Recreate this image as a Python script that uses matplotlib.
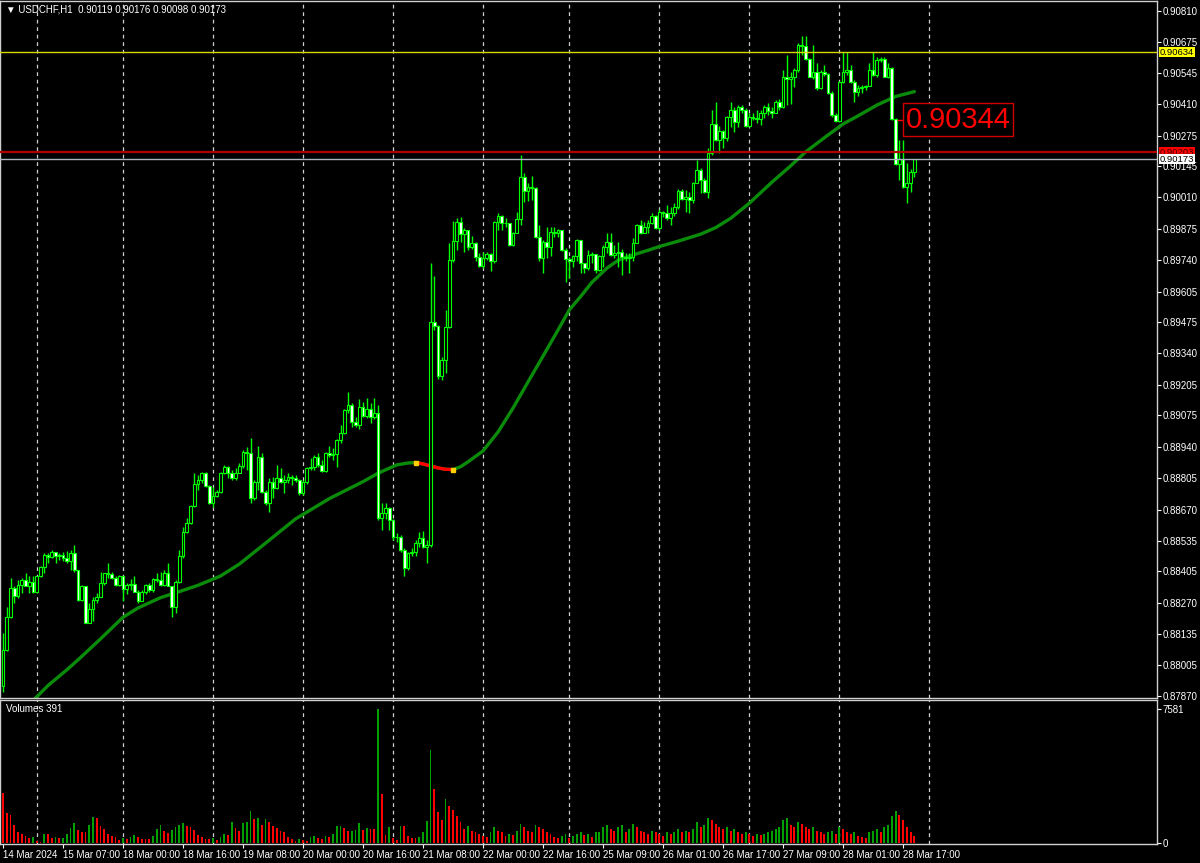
import matplotlib
matplotlib.use("Agg")
import matplotlib.pyplot as plt
from matplotlib.patches import Rectangle

plt.rcParams["font.family"] = ["Liberation Sans", "DejaVu Sans"]

# USDCHF H1, 244 hourly bars (14 Mar 15:00 .. 28 Mar 20:00)
first_open = 0.87911
closes = [
    0.88068, 0.88211, 0.88333, 0.88301, 0.88347, 0.88368, 0.88343, 0.88361, 0.88318, 0.88383,
    0.88423, 0.88476, 0.88466, 0.88489, 0.88469, 0.88476, 0.88461, 0.88451, 0.88483, 0.88411,
    0.88283, 0.88340, 0.88185, 0.88243, 0.88280, 0.88297, 0.88354, 0.88397, 0.88394, 0.88376,
    0.88347, 0.88387, 0.88328, 0.88347, 0.88351, 0.88318, 0.88276, 0.88318, 0.88347, 0.88326,
    0.88371, 0.88368, 0.88347, 0.88397, 0.88343, 0.88251, 0.88361, 0.88469, 0.88576, 0.88612,
    0.88686, 0.88779, 0.88795, 0.88826, 0.88772, 0.88697, 0.88729, 0.88747, 0.88829, 0.88852,
    0.88829, 0.88805, 0.88826, 0.88858, 0.88919, 0.88912, 0.88719, 0.88790, 0.88897, 0.88747,
    0.88697, 0.88790, 0.88762, 0.88804, 0.88790, 0.88797, 0.88812, 0.88804, 0.88797, 0.88740,
    0.88790, 0.88847, 0.88854, 0.88895, 0.88862, 0.88837, 0.88912, 0.88905, 0.88909, 0.88969,
    0.89000, 0.89098, 0.89119, 0.89048, 0.89033, 0.89112, 0.89072, 0.89103, 0.89066, 0.89083,
    0.88633, 0.88654, 0.88676, 0.88626, 0.88554, 0.88551, 0.88497, 0.88418, 0.88483, 0.88486,
    0.88526, 0.88547, 0.88511, 0.88518, 0.89477, 0.89458, 0.89243, 0.89312, 0.89455, 0.89741,
    0.89824, 0.89906, 0.89855, 0.89870, 0.89798, 0.89816, 0.89756, 0.89716, 0.89749, 0.89767,
    0.89739, 0.89906, 0.89930, 0.89902, 0.89899, 0.89806, 0.89859, 0.89916, 0.90096, 0.90039,
    0.90053, 0.90049, 0.89839, 0.89749, 0.89820, 0.89799, 0.89863, 0.89859, 0.89870, 0.89785,
    0.89745, 0.89735, 0.89759, 0.89825, 0.89727, 0.89706, 0.89763, 0.89767, 0.89699, 0.89759,
    0.89799, 0.89820, 0.89763, 0.89770, 0.89777, 0.89753, 0.89752, 0.89756, 0.89816, 0.89892,
    0.89859, 0.89885, 0.89899, 0.89928, 0.89878, 0.89949, 0.89942, 0.89920, 0.89945, 0.89968,
    0.90039, 0.90002, 0.90011, 0.89999, 0.90073, 0.90127, 0.90085, 0.90035, 0.90202, 0.90325,
    0.90256, 0.90296, 0.90263, 0.90356, 0.90385, 0.90335, 0.90399, 0.90385, 0.90316, 0.90356,
    0.90349, 0.90345, 0.90371, 0.90396, 0.90382, 0.90373, 0.90421, 0.90396, 0.90528, 0.90516,
    0.90525, 0.90556, 0.90664, 0.90659, 0.90602, 0.90528, 0.90549, 0.90478, 0.90549, 0.90539,
    0.90456, 0.90363, 0.90339, 0.90506, 0.90549, 0.90556, 0.90506, 0.90464, 0.90478, 0.90485,
    0.90488, 0.90556, 0.90535, 0.90599, 0.90602, 0.90528, 0.90564, 0.90345, 0.90153, 0.90173,
    0.90056, 0.90070, 0.90119, 0.90173,
]
highs = [
    0.88140, 0.88254, 0.88376, 0.88340, 0.88368, 0.88376, 0.88397, 0.88383, 0.88383, 0.88386,
    0.88426, 0.88483, 0.88483, 0.88497, 0.88490, 0.88483, 0.88490, 0.88494, 0.88497, 0.88519,
    0.88411, 0.88347, 0.88340, 0.88268, 0.88297, 0.88311, 0.88404, 0.88400, 0.88440, 0.88404,
    0.88383, 0.88390, 0.88387, 0.88354, 0.88371, 0.88383, 0.88326, 0.88323, 0.88351, 0.88354,
    0.88376, 0.88400, 0.88404, 0.88411, 0.88440, 0.88343, 0.88368, 0.88497, 0.88597, 0.88633,
    0.88690, 0.88826, 0.88819, 0.88830, 0.88833, 0.88776, 0.88769, 0.88755, 0.88833, 0.88862,
    0.88855, 0.88838, 0.88848, 0.88869, 0.88926, 0.88940, 0.88976, 0.88797, 0.88943, 0.88912,
    0.88754, 0.88804, 0.88812, 0.88862, 0.88847, 0.88819, 0.88829, 0.88819, 0.88819, 0.88800,
    0.88797, 0.88852, 0.88890, 0.88905, 0.88912, 0.88883, 0.88919, 0.88943, 0.88933, 0.88972,
    0.89033, 0.89100, 0.89176, 0.89126, 0.89069, 0.89143, 0.89133, 0.89148, 0.89126, 0.89148,
    0.89119, 0.88700, 0.88697, 0.88680, 0.88629, 0.88571, 0.88561, 0.88504, 0.88490, 0.88504,
    0.88540, 0.88576, 0.88580, 0.88540, 0.89727, 0.89672, 0.89462, 0.89326, 0.89527, 0.89813,
    0.89910, 0.89920, 0.89927, 0.89877, 0.89872, 0.89845, 0.89820, 0.89773, 0.89777, 0.89777,
    0.89773, 0.89910, 0.89942, 0.89935, 0.89920, 0.89902, 0.89863, 0.89949, 0.90192, 0.90113,
    0.90073, 0.90102, 0.90056, 0.89892, 0.89825, 0.89885, 0.89885, 0.89885, 0.89873, 0.89870,
    0.89792, 0.89753, 0.89763, 0.89830, 0.89827, 0.89730, 0.89785, 0.89777, 0.89767, 0.89763,
    0.89806, 0.89859, 0.89856, 0.89806, 0.89820, 0.89787, 0.89770, 0.89770, 0.89835, 0.89896,
    0.89913, 0.89906, 0.89913, 0.89942, 0.89935, 0.89959, 0.89953, 0.89978, 0.89968, 0.89985,
    0.90045, 0.90045, 0.90042, 0.90035, 0.90078, 0.90170, 0.90135, 0.90092, 0.90220, 0.90385,
    0.90421, 0.90316, 0.90299, 0.90359, 0.90421, 0.90396, 0.90406, 0.90406, 0.90392, 0.90371,
    0.90371, 0.90385, 0.90385, 0.90406, 0.90413, 0.90396, 0.90428, 0.90431, 0.90556, 0.90621,
    0.90549, 0.90564, 0.90671, 0.90702, 0.90702, 0.90607, 0.90664, 0.90585, 0.90556, 0.90578,
    0.90545, 0.90466, 0.90371, 0.90511, 0.90635, 0.90635, 0.90578, 0.90514, 0.90492, 0.90492,
    0.90492, 0.90585, 0.90635, 0.90614, 0.90614, 0.90614, 0.90585, 0.90570, 0.90349, 0.90256,
    0.90256, 0.90156, 0.90130, 0.90176,
]
lows = [
    0.87889, 0.88061, 0.88204, 0.88268, 0.88290, 0.88314, 0.88340, 0.88314, 0.88314, 0.88316,
    0.88380, 0.88397, 0.88440, 0.88461, 0.88440, 0.88454, 0.88451, 0.88440, 0.88411, 0.88404,
    0.88276, 0.88276, 0.88183, 0.88183, 0.88190, 0.88268, 0.88297, 0.88347, 0.88376, 0.88371,
    0.88340, 0.88340, 0.88276, 0.88308, 0.88326, 0.88316, 0.88268, 0.88276, 0.88308, 0.88318,
    0.88318, 0.88361, 0.88340, 0.88340, 0.88340, 0.88208, 0.88228, 0.88357, 0.88461, 0.88569,
    0.88609, 0.88683, 0.88755, 0.88783, 0.88769, 0.88695, 0.88680, 0.88726, 0.88740, 0.88823,
    0.88805, 0.88797, 0.88795, 0.88826, 0.88847, 0.88840, 0.88697, 0.88711, 0.88754, 0.88740,
    0.88690, 0.88661, 0.88719, 0.88757, 0.88783, 0.88740, 0.88783, 0.88776, 0.88790, 0.88733,
    0.88733, 0.88780, 0.88840, 0.88840, 0.88854, 0.88833, 0.88833, 0.88897, 0.88883, 0.88852,
    0.88955, 0.88995, 0.89083, 0.89026, 0.89026, 0.89015, 0.89069, 0.89062, 0.89043, 0.89058,
    0.88626, 0.88583, 0.88629, 0.88583, 0.88540, 0.88533, 0.88490, 0.88383, 0.88411, 0.88471,
    0.88471, 0.88511, 0.88504, 0.88440, 0.88510, 0.89441, 0.89229, 0.89226, 0.89258, 0.89448,
    0.89734, 0.89784, 0.89820, 0.89777, 0.89784, 0.89790, 0.89735, 0.89710, 0.89706, 0.89742,
    0.89692, 0.89730, 0.89870, 0.89868, 0.89885, 0.89802, 0.89802, 0.89856, 0.89892, 0.89992,
    0.89996, 0.89999, 0.89835, 0.89735, 0.89684, 0.89749, 0.89759, 0.89842, 0.89842, 0.89782,
    0.89649, 0.89663, 0.89710, 0.89735, 0.89687, 0.89687, 0.89699, 0.89727, 0.89687, 0.89692,
    0.89713, 0.89770, 0.89759, 0.89749, 0.89713, 0.89677, 0.89739, 0.89687, 0.89739, 0.89813,
    0.89853, 0.89856, 0.89856, 0.89896, 0.89873, 0.89870, 0.89925, 0.89913, 0.89892, 0.89928,
    0.89959, 0.89999, 0.89949, 0.89945, 0.89985, 0.90070, 0.90027, 0.90027, 0.90006, 0.90192,
    0.90253, 0.90199, 0.90220, 0.90253, 0.90313, 0.90292, 0.90313, 0.90371, 0.90313, 0.90313,
    0.90342, 0.90328, 0.90321, 0.90349, 0.90363, 0.90349, 0.90371, 0.90385, 0.90392, 0.90406,
    0.90411, 0.90485, 0.90549, 0.90621, 0.90599, 0.90525, 0.90516, 0.90471, 0.90474, 0.90531,
    0.90454, 0.90356, 0.90335, 0.90335, 0.90499, 0.90535, 0.90502, 0.90421, 0.90445, 0.90456,
    0.90471, 0.90488, 0.90531, 0.90528, 0.90592, 0.90525, 0.90521, 0.90342, 0.90149, 0.90085,
    0.90049, 0.89987, 0.90035, 0.90098,
]
volumes = [
    2849, 1679, 1566, 1000, 642, 509, 396, 283, 340, 113,
    57, 509, 509, 283, 340, 283, 290, 509, 830, 1113,
    717, 642, 604, 1038, 1453, 1396, 981, 774, 509, 396,
    340, 189, 302, 245, 340, 434, 340, 245, 245, 245,
    396, 792, 1038, 679, 566, 717, 906, 1038, 1113, 943,
    906, 717, 453, 340, 245, 240, 310, 151, 340, 509,
    434, 1208, 849, 660, 1113, 1189, 1792, 1358, 1396, 1000,
    1358, 1189, 962, 849, 679, 623, 340, 226, 94, 226,
    170, 132, 340, 396, 302, 226, 396, 340, 528, 943,
    950, 849, 660, 665, 717, 1113, 755, 849, 792, 792,
    7581, 2755, 434, 906, 302, 189, 943, 943, 396, 302,
    302, 340, 623, 1245, 5264, 3057, 1736, 1302, 2472, 2100,
    1850, 1500, 1200, 800, 950, 700, 620, 500, 420, 350,
    600, 900, 700, 600, 400, 500, 450, 700, 1100, 900,
    700, 600, 1000, 900, 800, 600, 500, 350, 300, 400,
    500, 300, 400, 500, 600, 450, 500, 350, 600, 650,
    900, 1000, 800, 700, 900, 1000, 600, 800, 1100, 900,
    700, 600, 500, 700, 600, 500, 400, 600, 500, 600,
    800, 600, 700, 600, 800, 1200, 900, 1000, 1400, 1300,
    1100, 900, 800, 900, 700, 800, 600, 500, 600, 500,
    400, 500, 450, 500, 600, 700, 800, 900, 1300, 1400,
    1000, 900, 1200, 1100, 900, 800, 900, 700, 600, 500,
    600, 700, 500, 900, 800, 600, 500, 600, 400, 350,
    300, 600, 700, 800, 600, 900, 1000, 1500, 1800, 1600,
    1300, 900, 600, 391,
]

# moving average (bar index, value)
ma_idx = [8, 12, 17, 20, 26, 32, 36, 42, 47, 52, 58, 63, 69, 78, 87, 96, 100, 105, 108, 110,
          112, 114, 116, 118, 120, 122, 124, 128, 132, 136, 140, 144, 148, 151, 154, 157, 161,
          164, 168, 172, 175, 180, 186, 190, 194, 199, 205, 210, 214, 219, 224, 228, 233, 238, 243]
ma_val = [0.87850, 0.87915, 0.87982, 0.88025, 0.88115, 0.88208, 0.88248, 0.88292, 0.88318,
          0.88345, 0.88385, 0.88436, 0.88513, 0.88630, 0.88717, 0.88790, 0.88826, 0.88862,
          0.88870, 0.88872, 0.88866, 0.88857, 0.88849, 0.88843, 0.88842, 0.88854, 0.88875,
          0.88922, 0.89003, 0.89106, 0.89218, 0.89329, 0.89441, 0.89527, 0.89584, 0.89645,
          0.89706, 0.89740, 0.89763, 0.89783, 0.89799, 0.89822, 0.89852, 0.89880, 0.89920,
          0.89985, 0.90075, 0.90145, 0.90205, 0.90266, 0.90325, 0.90360, 0.90406, 0.90443,
          0.90464]

price_ticks = [0.90810, 0.90675, 0.90545, 0.90410, 0.90275, 0.90145, 0.90010, 0.89875,
               0.89740, 0.89605, 0.89475, 0.89340, 0.89205, 0.89075, 0.88940, 0.88805,
               0.88670, 0.88535, 0.88405, 0.88270, 0.88135, 0.88005, 0.87870]
time_labels = ["14 Mar 2024", "15 Mar 07:00", "18 Mar 00:00", "18 Mar 16:00", "19 Mar 08:00",
               "20 Mar 00:00", "20 Mar 16:00", "21 Mar 08:00", "22 Mar 00:00", "22 Mar 16:00",
               "25 Mar 09:00", "26 Mar 01:00", "26 Mar 17:00", "27 Mar 09:00", "28 Mar 01:00",
               "28 Mar 17:00"]
day_starts = [9, 32, 56, 80, 104, 128, 151, 175, 199, 223, 247]

yellow_level = 0.90634
red_level = 0.90203
bid_level = 0.90173
marker_price = 0.90344
marker_bar = 238.4
header = "\u25bc USDCHF,H1  0.90119 0.90176 0.90098 0.90173"

LIME = "#00ff00"
FG = "#d0d0d0"
W, H = 1200, 863


def px_rect(x0, y0, x1, y1):
    return [x0 / W, 1 - y1 / H, (x1 - x0) / W, (y1 - y0) / H]


fig = plt.figure(figsize=(12, 8.63), dpi=100, facecolor="black")
ax = fig.add_axes(px_rect(0, 1, 1157, 698))
axv = fig.add_axes(px_rect(0, 700, 1157, 844))

for a in (ax, axv):
    a.set_facecolor("black")
    for s in a.spines.values():
        s.set_color(FG)
        s.set_linewidth(1)
    a.set_xlim(-0.8, 307.7)
    for d in day_starts:
        a.axvline(d, color=FG, lw=0.9, ls=(0, (3, 3)), zorder=1)
    a.yaxis.tick_right()
    a.tick_params(axis="y", colors="white", length=3, width=0.8, pad=1, labelsize=7)

ax.set_ylim(0.878614, 0.908529)
ax.set_yticks(price_ticks)
ax.set_yticklabels(["%.5f" % p for p in price_ticks])
ax.tick_params(axis="x", bottom=False, labelbottom=False)

# candles
n = len(closes)
opens = [first_open] + closes[:-1]
ax.vlines(range(n), lows, highs, color=LIME, lw=1, zorder=3)
for i in range(n):
    o, c = opens[i], closes[i]
    face = "black" if c >= o else "white"
    ax.add_patch(Rectangle((i - 0.36, min(o, c)), 0.72, max(abs(c - o), 1e-6),
                           facecolor=face, edgecolor=LIME, lw=0.8, zorder=4))

# moving average, red where falling
ax.plot(ma_idx, ma_val, color="#0a8c0a", lw=2.4, zorder=2, solid_capstyle="round")
fall = [k for k in range(len(ma_val) - 1) if ma_val[k + 1] < ma_val[k]]
ax.plot(ma_idx[fall[0]:fall[-1] + 2], ma_val[fall[0]:fall[-1] + 2], color="#ff0000", lw=2.4, zorder=2)
ax.plot([ma_idx[fall[0]], ma_idx[fall[-1] + 1]], [ma_val[fall[0]], ma_val[fall[-1] + 1]],
        ls="none", marker="s", ms=2.2, color="#ffd000", zorder=3)

# horizontal levels
ax.axhline(yellow_level, color="#d8d800", lw=1, zorder=5)
ax.axhline(red_level, color="#b00000", lw=1.6, zorder=5)
ax.axhline(bid_level, color="#a8b4c0", lw=1, zorder=5)

ytr = ax.get_yaxis_transform()
for lvl, bg, fg in [(yellow_level, "#ffff00", "black"), (red_level, "#ff0000", "#400000"),
                    (bid_level, "white", "black")]:
    ax.text(1.0025, lvl, "%.5f" % lvl, transform=ytr, ha="left", va="center", fontsize=6.8,
            color=fg, clip_on=False, zorder=10,
            bbox=dict(boxstyle="square,pad=0.06", facecolor=bg, edgecolor="none"))

# price marker label
ax.hlines(marker_price, marker_bar, marker_bar + 2.2, color="#ff0000", lw=1, zorder=6)
ax.text(marker_bar + 2.3, marker_price, "%.5f" % marker_price, fontsize=21, color="#ff0000",
        ha="left", va="center", zorder=7,
        bbox=dict(boxstyle="square,pad=0.08", facecolor="black", edgecolor="#d00000", lw=1))

# volumes
vcols = ["#ff0000"] + ["#00a000" if volumes[i] > volumes[i - 1] else "#ff0000" for i in range(1, n)]
axv.bar(range(n), volumes, width=0.5, color=vcols, linewidth=0, zorder=2)
axv.set_ylim(-57, 8090)
axv.set_yticks([0, 7581])
axv.set_yticklabels(["0", "7581"])
axv.set_xticks(range(0, 241, 16))
axv.set_xticklabels(time_labels, ha="left")
axv.tick_params(axis="x", colors="white", length=3, width=0.8, pad=1, labelsize=7)
axv.text(0.005, 0.935, "Volumes %d" % volumes[-1], transform=axv.transAxes, color="white",
         fontsize=7, ha="left", va="center")

fig.text(6 / W, 1 - 10 / H, header, color="white", fontsize=7, ha="left", va="center",
         family=["Liberation Sans", "DejaVu Sans"])

fig.savefig("out.png", dpi=100, facecolor="black")
